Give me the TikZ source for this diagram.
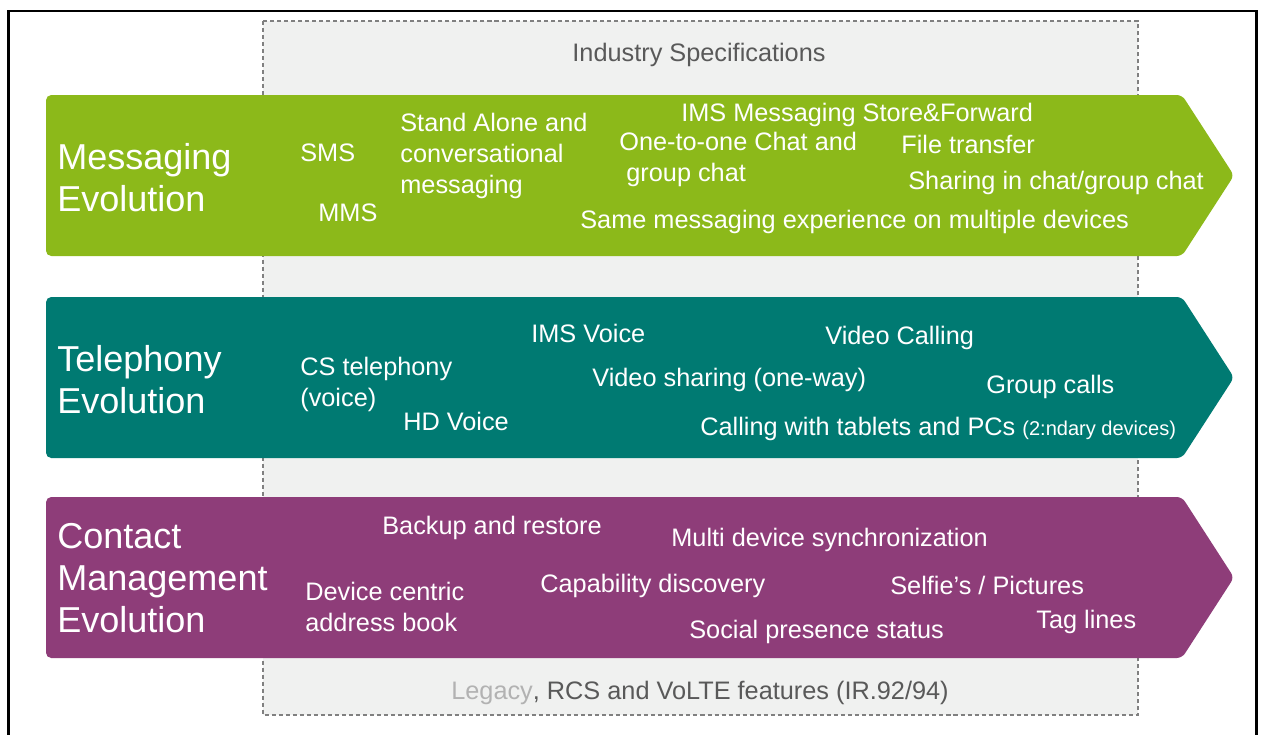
\documentclass[tikz,border=0pt]{standalone}
\usepackage{fontspec}
\setmainfont{Liberation Sans}
\definecolor{msgreen}{RGB}{140,185,26}
\definecolor{telteal}{RGB}{0,122,114}
\definecolor{cmpurple}{RGB}{142,61,121}
\definecolor{specgray}{RGB}{240,241,240}
\tikzset{
	band/.style={fill=#1, rounded corners=3pt},
	bandlabel/.style={text=white, anchor=west, inner sep=0pt, align=left,
			font=\fontsize{20.5}{23.9}\selectfont},
	feature/.style={text=white, anchor=west, inner sep=0pt, align=left,
			font=\fontsize{14.4}{17.6}\selectfont},
	spec/.style={text=black!65, inner sep=0pt, font=\fontsize{14.4}{17}\selectfont},
	specbox/.style={draw=black!50, fill=specgray, line width=.8pt,
			dash pattern=on 2.3pt off 1.7pt},
}

\begin{document}
\begin{tikzpicture}[x=0.02cm, y=-0.02cm]
	\useasboundingbox (0,0) rectangle (1266,734);
	\clip (0,0) rectangle (1266,734);
	\draw[line width=1.7pt] (8.5,11) rectangle (1256.5,760);

	% specification area behind the bands
	\draw[specbox] (263,21) rectangle (1138,715);
	\node[spec] (spectop) at (699,55) {Industry Specifications};
	\node[spec] (specbottom) at (700,693) {{\color{black!30}Legacy}, RCS and VoLTE features (IR.92/94)};

	\foreach \top/\col in {95/msgreen, 297/telteal, 497/cmpurple}
	\fill[band=\col] (46,\top) -- (1182,\top) -- (1234,\top+80.5) -- (1182,\top+161) -- (46,\top+161) -- cycle;

	% messaging
	\node[bandlabel] (msg) at (57,178) {Messaging\\Evolution};
	\node[feature] (sms) at (300,153) {SMS};
	\node[feature] (mms) at (318,213) {MMS};
	\node[feature] (standalone) at (400,156) {Stand Alone and\\conversational\\messaging};
	\node[feature] (storefwd) at (681,115) {IMS Messaging Store\&Forward};
	\node[feature] (chat) at (619,159) {One-to-one Chat and\\\hspace{4pt}group chat};
	\node[feature] (filetr) at (901,144) {File transfer};
	\node[feature] (sharing) at (908,183) {Sharing in chat/group chat};
	\node[feature] (multidev) at (580,222) {Same messaging experience on multiple devices};

	% telephony
	\node[bandlabel] (tel) at (57,380) {Telephony\\Evolution};
	\node[feature] (cstel) at (300,384) {CS telephony\\(voice)};
	\node[feature] (hdvoice) at (403,421) {HD Voice};
	\node[feature] (imsvoice) at (531,333) {IMS Voice};
	\node[feature] (vidshare) at (592,380) {Video sharing (one-way)};
	\node[feature] (vidcall) at (825,338) {Video Calling};
	\node[feature] (groupcall) at (986,387) {Group calls};
	\node[feature] (tablets) at (700,429) {Calling with tablets and PCs {\fontsize{11.4}{13}\selectfont(2:ndary devices)}};

	% contact management
	\node[bandlabel] (cm) at (57,578) {Contact\\Management\\Evolution};
	\node[feature] (backup) at (382,528) {Backup and restore};
	\node[feature] (sync) at (671,540) {Multi device synchronization};
	\node[feature] (addrbook) at (305,607) {Device centric\\address book};
	\node[feature] (capdisc) at (540,586) {Capability discovery};
	\node[feature] (selfie) at (890,585) {Selfie’s / Pictures};
	\node[feature] (taglines) at (1036,622) {Tag lines};
	\node[feature] (presence) at (689,632) {Social presence status};
\end{tikzpicture}
\end{document}
